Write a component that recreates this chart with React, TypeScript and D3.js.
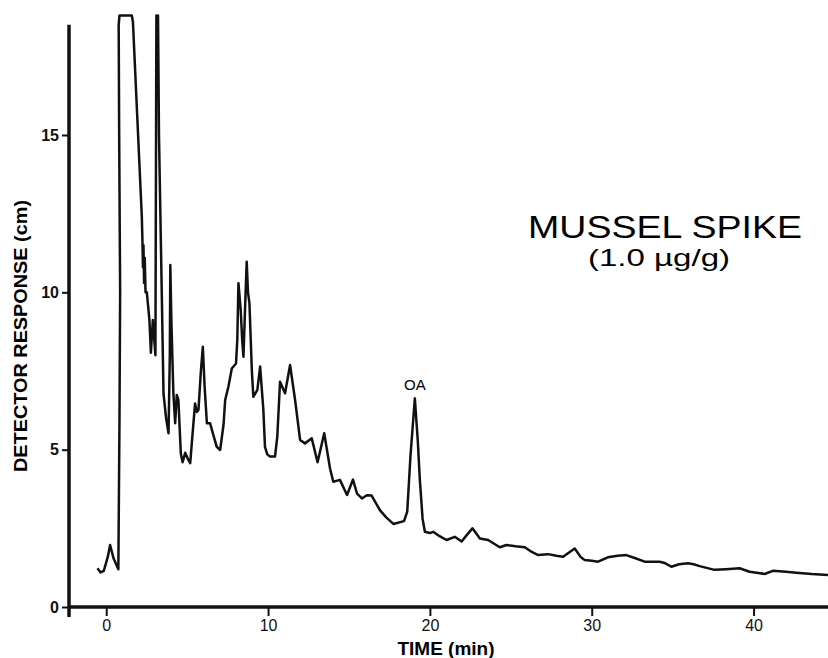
import React, { useRef, useEffect } from 'react';
import * as d3 from 'd3';

// retention time (min) and detector response (cm)
const timeMin = [
  -0.54, -0.35, -0.15, 0.1, 0.24, 0.45, 0.75, 0.82, 0.86, 0.8, 0.77, 0.82, 1.58, 1.65,
  2.2, 2.24, 2.27, 2.3, 2.34, 2.38, 2.43, 2.51, 2.67, 2.76, 2.88, 3.04, 3.1, 3.16, 3.2,
  3.26, 3.44, 3.54, 3.7, 3.85, 3.93, 3.96, 4.03, 4.15, 4.26, 4.36, 4.46, 4.61, 4.72,
  4.88, 5.05, 5.19, 5.35, 5.49, 5.6, 5.7, 5.85, 5.97, 6.08, 6.22, 6.42, 6.6, 6.83, 7.04,
  7.25, 7.35, 7.55, 7.76, 8.02, 8.1, 8.17, 8.31, 8.4, 8.48, 8.6, 8.68, 8.76, 8.85, 9.0,
  9.09, 9.34, 9.51, 9.71, 9.81, 9.95, 10.12, 10.43, 10.57, 10.74, 11.05, 11.36, 11.67,
  11.98, 12.28, 12.7, 13.06, 13.47, 13.83, 14.03, 14.44, 14.88, 15.25, 15.5, 15.8, 16.1,
  16.4, 16.91, 17.3, 17.74, 18.4, 18.6, 18.8, 19.07, 19.25, 19.38, 19.55, 19.69, 20.0,
  20.2, 20.6, 21.03, 21.54, 21.96, 22.3, 22.63, 23.09, 23.6, 24.32, 24.73, 25.3, 25.86,
  26.3, 26.69, 27.3, 27.82, 28.23, 28.95, 29.3, 29.57, 30.0, 30.39, 31.0, 31.6, 32.14,
  32.7, 33.27, 34.2, 34.5, 34.92, 35.4, 35.94, 36.3, 36.67, 37.59, 38.3, 39.14, 39.75,
  40.3, 40.68, 41.19, 42.0, 42.64, 43.6, 44.6,
];
const responseCm = [
  1.23, 1.1, 1.15, 1.6, 1.97, 1.55, 1.2, 6, 10, 15, 18.5, 18.8, 18.8, 18.6,
  12.4, 11.6, 10.8, 11.5, 10.3, 11.1, 10.0, 10.0, 9.12, 8.08, 9.12, 8.0, 18.8, 17, 18.8,
  15, 9.76, 6.78, 6.0, 5.52, 8, 10.87, 9, 6.79, 5.84, 6.74, 6.58, 4.88, 4.6,
  4.9, 4.7, 4.57, 5.6, 6.47, 6.2, 6.26, 7.5, 8.27, 7.0, 5.84, 5.84, 5.5, 5.09, 4.99,
  5.8, 6.58, 7.0, 7.58, 7.74, 8.5, 10.29, 9.44, 8.5, 7.95, 9.8, 10.97, 10.0, 9.65, 7.5,
  6.68, 6.9, 7.64, 6.26, 5.09, 4.85, 4.78, 4.78, 5.41, 7.16, 6.79, 7.69, 6.58,
  5.31, 5.2, 5.36, 4.6, 5.52, 4.4, 3.98, 4.04, 3.56, 4.05, 3.6, 3.45, 3.55,
  3.54, 3.08, 2.85, 2.64, 2.73, 3.03, 4.8, 6.63, 5.3, 4.04, 2.8, 2.39, 2.35,
  2.39, 2.25, 2.13, 2.23, 2.08, 2.3, 2.5, 2.18, 2.13, 1.9, 1.97, 1.93, 1.9,
  1.75, 1.65, 1.68, 1.63, 1.6, 1.86, 1.6, 1.49, 1.47, 1.44, 1.58, 1.63, 1.65,
  1.55, 1.44, 1.44, 1.4, 1.28, 1.36, 1.39, 1.36, 1.3, 1.18, 1.2, 1.23, 1.12,
  1.08, 1.05, 1.15, 1.12, 1.09, 1.05, 1.02,
];
const xTicks = [0, 10, 20, 30, 40];
const yTicks = [0, 5, 10, 15];

const FONT = '"Liberation Sans", Arial, Helvetica, sans-serif';

const Chromatogram = () => {
  const ref = useRef(null);

  useEffect(() => {
    if (!ref.current) return;
    d3.select(ref.current).select('svg').remove();

    const width = 828;
    const height = 658;
    const svg = d3.select(ref.current)
      .append('svg')
      .attr('width', width)
      .attr('height', height)
      .style('position', 'absolute')
      .style('left', 0)
      .style('top', 0)
      .style('background', '#fff')
      .style('font-family', FONT);

    const x = d3.scaleLinear().domain([-2.3, 44.6]).range([69, 828]);
    const y = d3.scaleLinear().domain([0, 15]).range([607, 135]);

    const pts = timeMin.map((t, i) => [t, responseCm[i]]);
    const line = d3.line().x(d => x(d[0])).y(d => y(d[1]));

    svg.append('path')
      .attr('d', line(pts))
      .attr('fill', 'none')
      .attr('stroke', '#111')
      .attr('stroke-width', 2.5)
      .attr('stroke-linejoin', 'round');

    // axis lines
    svg.append('line')
      .attr('x1', x(-2.3)).attr('x2', width)
      .attr('y1', y(0)).attr('y2', y(0))
      .attr('stroke', '#111').attr('stroke-width', 3.5);
    svg.append('line')
      .attr('x1', x(-2.3)).attr('x2', x(-2.3))
      .attr('y1', y(18.5)).attr('y2', y(0) + 10)
      .attr('stroke', '#111').attr('stroke-width', 3.5);

    const gx = svg.append('g')
      .attr('transform', `translate(0,${y(0)})`)
      .call(d3.axisBottom(x).tickValues(xTicks).tickSize(9).tickSizeOuter(0));
    gx.select('.domain').remove();
    gx.selectAll('line').attr('stroke', '#111').attr('stroke-width', 2);
    gx.selectAll('text')
      .attr('y', 24).attr('dy', 0)
      .attr('fill', '#111')
      .style('font-family', FONT)
      .style('font-size', '16px');

    const gy = svg.append('g')
      .attr('transform', `translate(${x(-2.3)},0)`)
      .call(d3.axisLeft(y).tickValues(yTicks).tickSize(7).tickPadding(3).tickSizeOuter(0));
    gy.select('.domain').remove();
    gy.selectAll('line').attr('stroke', '#111').attr('stroke-width', 2);
    gy.selectAll('text')
      .attr('fill', '#111')
      .style('font-family', FONT)
      .style('font-size', '16px')
      .style('font-weight', 600);

    svg.append('text')
      .attr('x', 446).attr('y', 655)
      .attr('text-anchor', 'middle')
      .style('font-size', '19px')
      .style('font-weight', 'bold')
      .text('TIME (min)');

    svg.append('text')
      .attr('transform', 'translate(27,336) rotate(-90)')
      .attr('text-anchor', 'middle')
      .style('font-size', '18px')
      .style('font-weight', 'bold')
      .attr('textLength', 272)
      .attr('lengthAdjust', 'spacingAndGlyphs')
      .text('DETECTOR RESPONSE (cm)');

    svg.append('text')
      .attr('x', 528).attr('y', 238)
      .style('font-size', '32px')
      .attr('textLength', 274)
      .attr('lengthAdjust', 'spacingAndGlyphs')
      .text('MUSSEL SPIKE');

    svg.append('text')
      .attr('x', 588).attr('y', 266)
      .style('font-size', '24px')
      .attr('textLength', 142)
      .attr('lengthAdjust', 'spacingAndGlyphs')
      .text('(1.0 \u00b5g/g)');

    svg.append('text')
      .attr('x', x(19.07)).attr('y', 390)
      .attr('text-anchor', 'middle')
      .style('font-size', '15px')
      .text('OA');
  }, []);

  return <div ref={ref}></div>;
};

export default function App() {
  return <Chromatogram />;
}
